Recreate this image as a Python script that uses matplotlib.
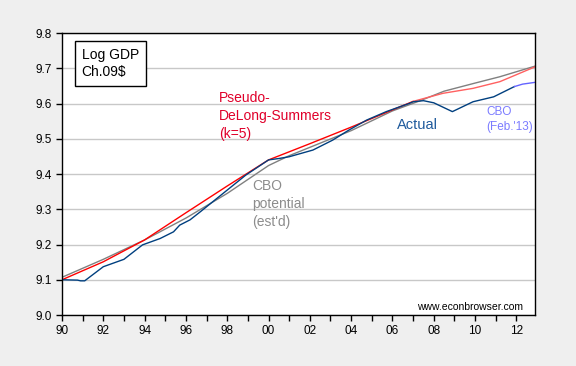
import matplotlib
matplotlib.use('Agg')
import matplotlib.pyplot as plt

plt.rcParams['font.family'] = ['Liberation Sans', 'DejaVu Sans']

# Actual log GDP (Ch.09$)
actual_years = [1990.0, 1990.75, 1990.9, 1991.1, 1992.0, 1993.0, 1993.9, 1994.75, 1995.4,
                1995.7, 1996.2, 1996.7, 1997.8, 1998.9, 2000.0, 2000.5, 2001.0, 2002.15,
                2003.1, 2003.9, 2004.75, 2005.7, 2006.8, 2007.0, 2007.5, 2008.0, 2008.9,
                2009.9, 2010.9, 2011.9]
actual_vals = [9.100, 9.099, 9.097, 9.097, 9.137, 9.158, 9.199, 9.217, 9.236,
               9.255, 9.270, 9.293, 9.345, 9.397, 9.440, 9.444, 9.449, 9.468,
               9.496, 9.525, 9.553, 9.577, 9.600, 9.605, 9.608, 9.602, 9.577,
               9.605, 9.619, 9.648]

# CBO projection (Feb. '13)
cbo13_years = [2011.9, 2012.3, 2012.9]
cbo13_vals = [9.648, 9.655, 9.660]

# Pseudo-DeLong-Summers (k=5): fitted part and projection
pds_years = [1990, 1992, 1994, 1996, 1998, 2000, 2001, 2002, 2004, 2006, 2007]
pds_vals = [9.100, 9.151, 9.213, 9.290, 9.366, 9.440, 9.463, 9.486, 9.533, 9.582, 9.606]
pds_proj_years = [2007, 2008.45, 2009.9, 2011.2, 2012.9]
pds_proj_vals = [9.606, 9.629, 9.643, 9.662, 9.704]

# CBO potential (est'd)
pot_years = [1990, 1992, 1994, 1996, 1998, 2000, 2001, 2004, 2006, 2007.3, 2008.5,
             2010, 2011.2, 2012.9]
pot_vals = [9.107, 9.158, 9.213, 9.275, 9.345, 9.424, 9.452, 9.523, 9.579, 9.607, 9.635,
            9.658, 9.676, 9.706]

fig = plt.figure(figsize=(5.76, 3.66), dpi=100, facecolor='#EFEFEF')
ax = fig.add_axes([0.1076, 0.1393, 0.8212, 0.7705])
ax.set_facecolor('white')

ax.plot(pot_years, pot_vals, color='#808080', lw=1.0)
ax.plot(pds_years, pds_vals, color='#FF0000', lw=1.0)
ax.plot(pds_proj_years, pds_proj_vals, color='#FF6060', lw=1.0)
ax.plot(actual_years, actual_vals, color='#003F7F', lw=1.0)
ax.plot(cbo13_years, cbo13_vals, color='#6464FF', lw=1.0)

ax.set_xlim(1990, 2012.9)
ax.set_ylim(9.0, 9.8)
ax.set_yticks([9.0, 9.1, 9.2, 9.3, 9.4, 9.5, 9.6, 9.7, 9.8])
ax.set_yticklabels(['9.0', '9.1', '9.2', '9.3', '9.4', '9.5', '9.6', '9.7', '9.8'])
even = list(range(1990, 2013, 2))
ax.set_xticks(even)
ax.set_xticklabels(['%02d' % (y % 100) for y in even])
ax.set_xticks(list(range(1991, 2013, 2)), minor=True)
ax.tick_params(axis='both', which='both', direction='out', length=4, width=1,
               labelsize=8.5, colors='black')
ax.tick_params(axis='x', pad=3)
ax.grid(axis='y', color='#C8C8C8', lw=1.0)
ax.set_axisbelow(True)
for s in ax.spines.values():
    s.set_color('black')
    s.set_linewidth(1.0)

ax.text(1990.95, 9.713, 'Log GDP\nCh.09$', fontsize=10, va='center', ha='left',
        linespacing=1.3,
        bbox=dict(boxstyle='square,pad=0.5', fc='white', ec='black', lw=1.0))
ax.text(1997.6, 9.565, 'Pseudo-\nDeLong-Summers\n(k=5)', color='#E0002A', fontsize=10,
        va='center', ha='left', linespacing=1.35)
ax.text(1999.2, 9.315, "CBO\npotential\n(est'd)", color='#8C8C8C', fontsize=10,
        va='center', ha='left', linespacing=1.35)
ax.text(2006.2, 9.539, 'Actual', color='#1F5A9C', fontsize=10.5, va='center', ha='left')
ax.text(2010.55, 9.555, "CBO\n(Feb.'13)", color='#7B7BFF', fontsize=8.5,
        va='center', ha='left', linespacing=1.3)
ax.text(2007.2, 9.024, 'www.econbrowser.com', color='black', fontsize=7.5,
        va='center', ha='left')

fig.savefig('out.png', dpi=100, facecolor=fig.get_facecolor())
